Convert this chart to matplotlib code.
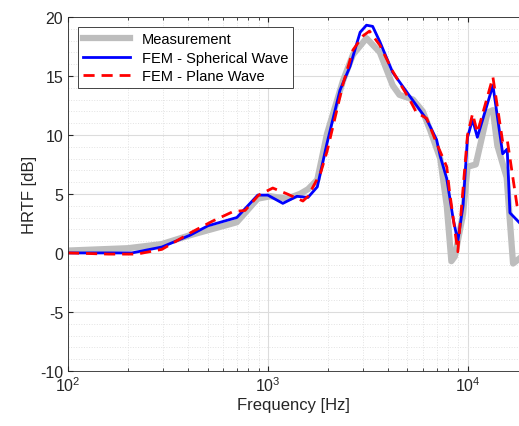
#!/usr/bin/env python3
"""
HRTF comparison: measurement vs. FEM (spherical and plane wave incidence).
"""
import matplotlib
matplotlib.use("Agg")
import matplotlib.pyplot as plt
from matplotlib.ticker import LogLocator, NullFormatter, MultipleLocator

plt.rcParams['font.family'] = ['Liberation Sans', 'DejaVu Sans']
plt.rcParams['axes.unicode_minus'] = False

# measured HRTF
meas_f = [100, 200, 295, 408, 700, 891, 1030, 1250, 1450, 1590, 1770, 1980,
          2380, 2670, 3120, 3640, 4220, 4560, 5330, 5970, 6500, 7300, 7870,
          8300, 8640, 9500, 10000, 11000, 12600, 13400, 14100, 15700, 16900,
          18100]
meas_db = [0.2, 0.4, 0.75, 1.5, 2.6, 4.6, 4.8, 4.6, 5.0, 5.4, 6.2, 10.1,
           14.6, 16.8, 18.2, 17.0, 14.2, 13.4, 13.0, 12.0, 10.4, 8.0, 4.0,
           -0.7, -0.3, 3.3, 7.3, 7.5, 11.9, 12.1, 9.1, 6.4, -0.9, -0.5]

# FEM, spherical wave
sph_f = [100, 209, 295, 408, 502, 700, 891, 1000, 1190, 1400, 1590, 1770,
         1980, 2300, 2580, 2900, 3120, 3350, 3640, 4220, 5130, 6250, 7000,
         7300, 7870, 8470, 8940, 9500, 10000, 10600, 11200, 13400, 15000,
         15800, 16300, 18100]
sph_db = [0.0, 0.0, 0.5, 1.5, 2.3, 3.0, 4.9, 4.9, 4.2, 4.8, 4.7, 5.6,
          9.3, 13.8, 15.8, 18.7, 19.3, 19.2, 17.9, 15.3, 13.3, 11.3, 9.6,
          8.2, 6.3, 2.9, 1.0, 4.0, 9.8, 11.3, 9.8, 14.2, 8.4,
          8.8, 3.4, 2.6]

# FEM, plane wave
pln_f = [100, 160, 221, 295, 420, 530, 670, 770, 900, 1060, 1250, 1500,
         1590, 1840, 1980, 2380, 2670, 3000, 3230, 3640, 4220, 5130, 5550,
         6250, 7000, 7870, 8100, 8940, 10000, 10600, 11200, 13400, 15000,
         15800, 17700, 18100]
pln_db = [0.0, -0.1, -0.1, 0.3, 1.8, 2.7, 3.5, 3.6, 4.9, 5.5, 5.0, 4.4,
          4.8, 6.8, 8.6, 14.3, 17.2, 18.4, 18.8, 17.6, 15.4, 13.0, 11.9,
          11.4, 9.3, 7.3, 5.4, 0.1, 10.0, 11.8, 10.2, 14.9, 9.4,
          9.6, 4.0, 3.5]


def plot_hrtf():
    fig = plt.figure(figsize=(5.19, 4.27), dpi=100)
    ax = fig.add_axes([0.131, 0.129, 0.869, 0.829])

    ax.semilogx(meas_f, meas_db, color='#bdbdbd', lw=4.5, label='Measurement')
    ax.semilogx(sph_f, sph_db, color='#0000ff', lw=2.0,
                label='FEM - Spherical Wave')
    ax.semilogx(pln_f, pln_db, color='#ff0000', lw=2.0, ls=(0, (4, 2.5)),
                label='FEM - Plane Wave')

    ax.set_xlim(100, 18100)
    ax.set_ylim(-10, 20)
    ax.set_yticks(range(-10, 21, 5))
    ax.xaxis.set_major_locator(LogLocator(base=10, numticks=10))
    ax.xaxis.set_minor_locator(LogLocator(base=10, subs=range(2, 10), numticks=20))
    ax.xaxis.set_minor_formatter(NullFormatter())
    ax.yaxis.set_minor_locator(MultipleLocator(1))

    ax.grid(True, which='major', color='#dcdcdc', lw=0.8)
    ax.grid(True, which='minor', color='#e2e2e2', lw=0.7, ls=':')
    ax.set_axisbelow(True)

    for side in ('left', 'bottom', 'top'):
        ax.spines[side].set_color('#262626')
        ax.spines[side].set_linewidth(0.6)
    ax.spines['right'].set_visible(False)
    ax.tick_params(which='both', direction='in', colors='#262626',
                   labelsize=11.5, top=True)
    ax.tick_params(which='minor', length=2.5)
    ax.tick_params(axis='y', which='minor', left=False)

    ax.set_xlabel('Frequency [Hz]', fontsize=12, color='#262626', labelpad=2)
    ax.set_ylabel('HRTF [dB]', fontsize=12, color='#262626', labelpad=2)

    leg = ax.legend(loc='upper left', fontsize=10.5, fancybox=False,
                    framealpha=1, edgecolor='#262626', handlelength=3.2,
                    borderaxespad=0.7, labelspacing=0.3, borderpad=0.35)
    leg.get_frame().set_linewidth(0.6)

    fig.savefig('out.png', dpi=100)
# end def: plot_hrtf


if __name__ == "__main__":
    plot_hrtf()
# end if
